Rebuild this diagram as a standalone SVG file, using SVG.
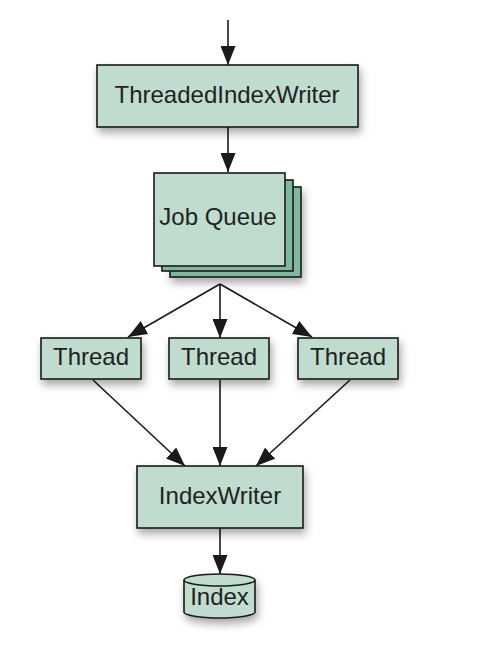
<svg xmlns="http://www.w3.org/2000/svg" width="485" height="655" viewBox="0 0 485 655">
<style>
.box{fill:#c0dccf;stroke:#1a1a1a;stroke-width:1.6}
.back{fill:#7fb89c;stroke:#1a1a1a;stroke-width:1.6}
.lbl{font-family:"Liberation Sans",Arial,sans-serif;font-size:24px;fill:#222;text-anchor:middle}
.edge{stroke:#1a1a1a;stroke-width:1.6;fill:none;marker-end:url(#ah)}
</style>
<defs>
<marker id="ah" viewBox="0 0 19 15" refX="19" refY="7.5" markerWidth="19" markerHeight="15" markerUnits="userSpaceOnUse" orient="auto">
<path d="M0,0 L19,7.5 L0,15 Z" fill="#1a1a1a"/>
</marker>
<filter id="sh" x="-20%" y="-20%" width="150%" height="160%">
<feDropShadow dx="2" dy="5" stdDeviation="4" flood-color="#000" flood-opacity="0.35"/>
</filter>
</defs>
<rect width="485" height="655" fill="#fff"/>
<g id="connectors">
<line class="edge" x1="228" y1="20" x2="228" y2="65"/>
<line class="edge" x1="228" y1="127" x2="228" y2="172"/>
<line class="edge" x1="220" y1="284" x2="128" y2="337"/>
<line class="edge" x1="220" y1="284" x2="220" y2="338"/>
<line class="edge" x1="220" y1="284" x2="312" y2="337"/>
<line class="edge" x1="93" y1="380" x2="185" y2="466"/>
<line class="edge" x1="220" y1="380" x2="220" y2="466"/>
<line class="edge" x1="350" y1="380" x2="256" y2="466"/>
<line class="edge" x1="220" y1="528" x2="220" y2="574"/>
</g>
<g id="threadedindexwriter">
<rect class="box" x="97" y="65" width="261" height="62" filter="url(#sh)"/>
<text class="lbl" x="227" y="103">ThreadedIndexWriter</text>
</g>
<g id="jobqueue">
<rect class="back" x="170" y="187" width="131" height="90" filter="url(#sh)"/>
<rect class="back" x="162" y="180" width="131" height="91"/>
<rect class="box" x="154" y="173" width="131" height="93"/>
<text class="lbl" x="218" y="225">Job Queue</text>
</g>
<g id="thread1">
<rect class="box" x="41" y="338" width="100" height="41" filter="url(#sh)"/>
<text class="lbl" x="91" y="365">Thread</text>
</g>
<g id="thread2">
<rect class="box" x="169" y="338" width="100" height="41" filter="url(#sh)"/>
<text class="lbl" x="219" y="365">Thread</text>
</g>
<g id="thread3">
<rect class="box" x="298" y="338" width="100" height="41" filter="url(#sh)"/>
<text class="lbl" x="348" y="365">Thread</text>
</g>
<g id="indexwriter">
<rect class="box" x="137" y="466" width="166" height="62" filter="url(#sh)"/>
<text class="lbl" x="220" y="504">IndexWriter</text>
</g>
<g id="index">
<path class="box" filter="url(#sh)" d="M184,580 A35.5,6 0 0 1 255,580 L255,612 A35.5,6 0 0 1 184,612 Z"/>
<path d="M184,580 A35.5,6 0 0 0 255,580" fill="none" stroke="#1a1a1a" stroke-width="1.6"/>
<text class="lbl" x="219.5" y="605">Index</text>
</g>
</svg>
